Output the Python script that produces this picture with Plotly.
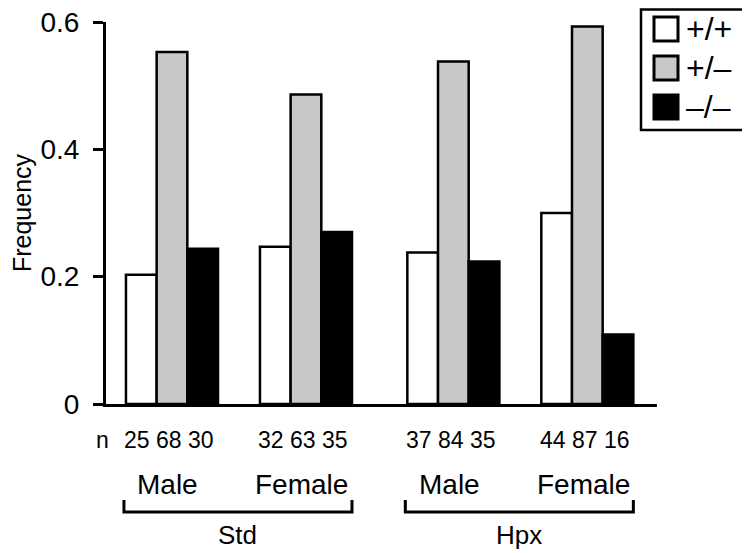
import plotly.graph_objects as go

# genotype frequencies per group
groups = ["Std Male", "Std Female", "Hpx Male", "Hpx Female"]
group_pos = [0, 1, 2.1, 3.1]
genotypes = ["+/+", "+/\u2013", "\u2013/\u2013"]
freq_wt = [0.203, 0.247, 0.238, 0.300]
freq_het = [0.553, 0.486, 0.538, 0.593]
freq_ko = [0.244, 0.270, 0.224, 0.109]
counts = [[25, 68, 30], [32, 63, 35], [37, 84, 35], [44, 87, 16]]
sex_labels = ["Male", "Female", "Male", "Female"]
treatments = ["Std", "Hpx"]
y_ticks = [0, 0.2, 0.4, 0.6]
y_ticktext = ["0", "0.2", "0.4", "0.6"]

colors = ["#ffffff", "#c8c8c8", "#000000"]
FONT = "Liberation Sans, Arial, sans-serif"

# page body has an 8px margin, so the figure is a bit smaller and offset
OFF = 8
W, H = 750 - OFF, 553 - OFF
L, R, T, B = 106 - OFF, 93, 22 - OFF, 149
bargap = 0.313
bw = (1 - bargap) / 3


def px2x(px):
    # px measured on the page
    return (px - OFF - L) / (W - L - R)


def px2y(py):
    return (H - B - (py - OFF)) / (H - T - B)


def label(x, y, text, size, xref="x", xanchor="center"):
    return dict(x=x, y=y, xref=xref, yref="paper", text=text, showarrow=False,
                xanchor=xanchor, yanchor="middle", font=dict(size=size))


fig = go.Figure()
for name, vals, col in zip(genotypes, [freq_wt, freq_het, freq_ko], colors):
    fig.add_trace(go.Bar(x=group_pos, y=vals, name=name,
                         marker=dict(color=col, line=dict(color="black", width=2.5)),
                         showlegend=False))

ann = []
shapes = []

# n counts under each group
ann.append(label(px2x(102), px2y(440), "n", 23, xref="paper"))
for g, cs in zip(group_pos, counts):
    ann.append(label(g - 0.02, px2y(440), " ".join(str(c) for c in cs), 23))

for g, lab in zip(group_pos, sex_labels):
    ann.append(label(g - 0.03, px2y(484), lab, 28))

# brackets for Std / Hpx
for i, tr in enumerate(treatments):
    x0 = group_pos[2 * i] - 1.5 * bw - 0.015
    x1 = group_pos[2 * i + 1] + 1.5 * bw
    shapes.append(dict(type="path", xref="x", yref="paper",
                       path=f"M {x0},{px2y(500)} L {x0},{px2y(512)} L {x1},{px2y(512)} L {x1},{px2y(500)}",
                       line=dict(color="black", width=3)))
    ann.append(label((x0 + x1) / 2, px2y(535), tr, 26))

# legend box
shapes.append(dict(type="rect", xref="paper", yref="paper",
                   x0=px2x(641), x1=px2x(747), y0=px2y(130), y1=px2y(9.5),
                   line=dict(color="black", width=2.5), fillcolor="white"))
for i, (name, col) in enumerate(zip(genotypes, colors)):
    cy = 29 + 39 * i
    shapes.append(dict(type="rect", xref="paper", yref="paper",
                       x0=px2x(654), x1=px2x(678), y0=px2y(cy + 12), y1=px2y(cy - 12),
                       line=dict(color="black", width=3), fillcolor=col))
    ann.append(label(px2x(684), px2y(cy), name, 32, xref="paper", xanchor="left"))

fig.update_layout(
    width=W, height=H, margin=dict(l=L, r=R, t=T, b=B),
    plot_bgcolor="white", paper_bgcolor="white",
    font=dict(family=FONT, color="black"),
    barmode="group", bargap=bargap, bargroupgap=0,
    annotations=ann, shapes=shapes,
    xaxis=dict(range=[-0.4925, 3.62], showticklabels=False, ticks="",
               showline=True, linecolor="black", linewidth=3, showgrid=False,
               zeroline=False, fixedrange=True, automargin=False),
    yaxis=dict(range=[0, 0.6], tickvals=y_ticks, ticktext=y_ticktext,
               ticks="outside", ticklen=10, tickwidth=3, tickcolor="black",
               ticklabelstandoff=8, tickfont=dict(size=28),
               ticklabeloverflow="allow",
               showline=True, linecolor="black", linewidth=3, showgrid=False,
               zeroline=False, automargin=False,
               title=dict(text="Frequency", font=dict(size=25), standoff=13)),
)

fig.write_html("out.html")
